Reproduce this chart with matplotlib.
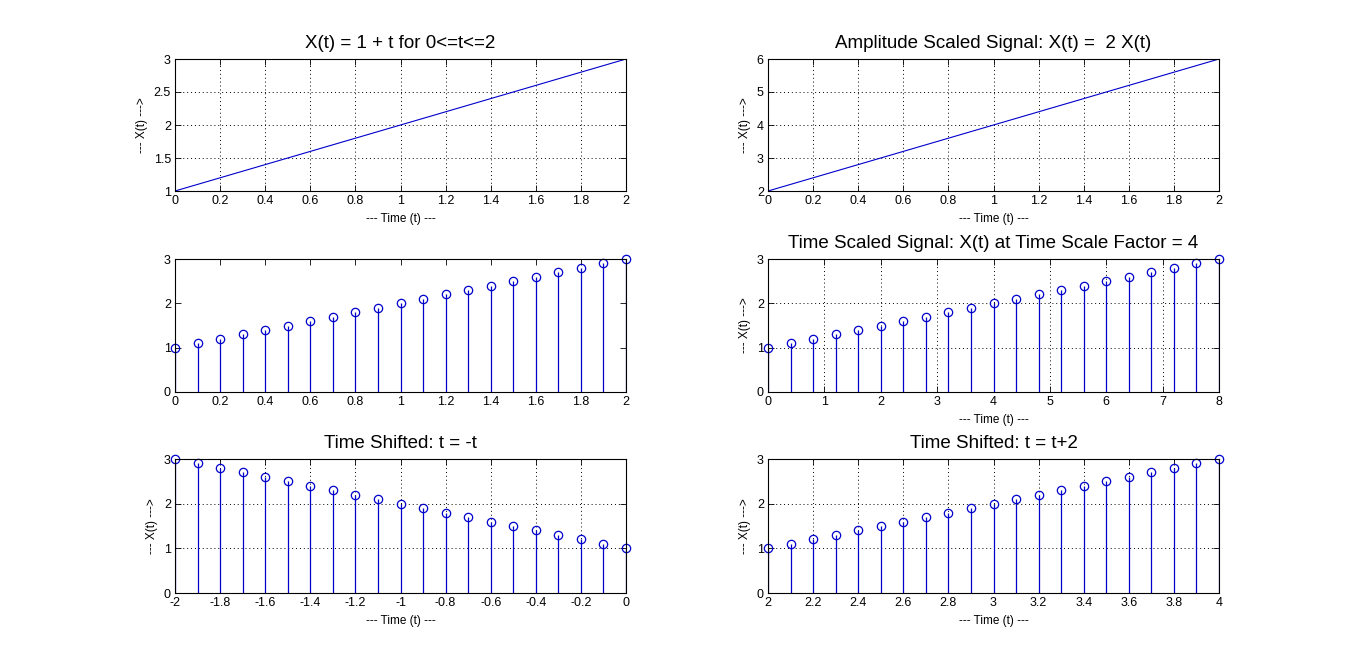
import matplotlib
matplotlib.use("Agg")
import matplotlib.pyplot as plt
from matplotlib.ticker import FuncFormatter, MultipleLocator

plt.rcParams['font.family'] = ['Liberation Sans', 'DejaVu Sans']
plt.rcParams['axes.unicode_minus'] = False

# signal samples
t = [0.0, 0.1, 0.2, 0.3, 0.4, 0.5, 0.6, 0.7, 0.8, 0.9, 1.0,
     1.1, 1.2, 1.3, 1.4, 1.5, 1.6, 1.7, 1.8, 1.9, 2.0]
x = [1.0, 1.1, 1.2, 1.3, 1.4, 1.5, 1.6, 1.7, 1.8, 1.9, 2.0,
     2.1, 2.2, 2.3, 2.4, 2.5, 2.6, 2.7, 2.8, 2.9, 3.0]
x_amp = [2.0, 2.2, 2.4, 2.6, 2.8, 3.0, 3.2, 3.4, 3.6, 3.8, 4.0,
         4.2, 4.4, 4.6, 4.8, 5.0, 5.2, 5.4, 5.6, 5.8, 6.0]
t_scaled = [0.0, 0.4, 0.8, 1.2, 1.6, 2.0, 2.4, 2.8, 3.2, 3.6, 4.0,
            4.4, 4.8, 5.2, 5.6, 6.0, 6.4, 6.8, 7.2, 7.6, 8.0]
t_rev = [0.0, -0.1, -0.2, -0.3, -0.4, -0.5, -0.6, -0.7, -0.8, -0.9, -1.0,
         -1.1, -1.2, -1.3, -1.4, -1.5, -1.6, -1.7, -1.8, -1.9, -2.0]
t_shift = [2.0, 2.1, 2.2, 2.3, 2.4, 2.5, 2.6, 2.7, 2.8, 2.9, 3.0,
           3.1, 3.2, 3.3, 3.4, 3.5, 3.6, 3.7, 3.8, 3.9, 4.0]

XLAB = '--- Time (t) ---'
YLAB = '--- X(t) --->'

fig = plt.figure(figsize=(13.47, 6.68), dpi=100)

lefts = [175 / 1347, 768 / 1347]
w = 451 / 1347
rows = [(59, 191), (259, 392), (459, 593)]

def make_ax(r, c):
    top, bot = rows[r]
    ax = fig.add_axes([lefts[c], 1 - bot / 668, w, (bot - top) / 668])
    ax.tick_params(direction='in', top=True, right=True, length=4,
                   width=0.6, labelsize=9, pad=3)
    for s in ax.spines.values():
        s.set_linewidth(0.8)
    ax.xaxis.set_major_formatter(FuncFormatter(lambda v, p: '%g' % round(v, 6)))
    ax.yaxis.set_major_formatter(FuncFormatter(lambda v, p: '%g' % round(v, 6)))
    return ax

def grid(ax):
    ax.grid(True, linestyle=(0, (1, 3)), color='black', linewidth=0.7)

def stem(ax, xs, ys):
    ml, sl, bl = ax.stem(xs, ys, linefmt='-', markerfmt='o', basefmt=' ')
    sl.set_color('#0000cc')
    sl.set_linewidth(0.9)
    ml.set_markerfacecolor('none')
    ml.set_markeredgecolor('#0000cc')
    ml.set_markersize(6)
    ml.set_markeredgewidth(0.9)
    ml.set_clip_on(False)

def labels(ax, title=None):
    ax.set_xlabel(XLAB, fontsize=8.5, labelpad=4)
    ax.set_ylabel(YLAB, fontsize=8.5, labelpad=4)
    if title:
        ax.set_title(title, fontsize=13.5, pad=8)

# row 1 left
ax = make_ax(0, 0)
ax.plot(t, x, color='#0000cc', linewidth=0.8)
ax.set_xlim(0, 2)
ax.set_ylim(1, 3)
ax.xaxis.set_major_locator(MultipleLocator(0.2))
ax.yaxis.set_major_locator(MultipleLocator(0.5))
grid(ax)
labels(ax, 'X(t) = 1 + t for 0<=t<=2')

# row 1 right
ax = make_ax(0, 1)
ax.plot(t, x_amp, color='#0000cc', linewidth=0.8)
ax.set_xlim(0, 2)
ax.set_ylim(2, 6)
ax.xaxis.set_major_locator(MultipleLocator(0.2))
ax.yaxis.set_major_locator(MultipleLocator(1))
grid(ax)
labels(ax, 'Amplitude Scaled Signal: X(t) =  2 X(t)')

# row 2 left
ax = make_ax(1, 0)
stem(ax, t, x)
ax.set_xlim(0, 2)
ax.set_ylim(0, 3)
ax.xaxis.set_major_locator(MultipleLocator(0.2))
ax.yaxis.set_major_locator(MultipleLocator(1))

# row 2 right
ax = make_ax(1, 1)
stem(ax, t_scaled, x)
ax.set_xlim(0, 8)
ax.set_ylim(0, 3)
ax.xaxis.set_major_locator(MultipleLocator(1))
ax.yaxis.set_major_locator(MultipleLocator(1))
grid(ax)
labels(ax, 'Time Scaled Signal: X(t) at Time Scale Factor = 4')

# row 3 left
ax = make_ax(2, 0)
stem(ax, t_rev, x)
ax.set_xlim(-2, 0)
ax.set_ylim(0, 3)
ax.xaxis.set_major_locator(MultipleLocator(0.2))
ax.yaxis.set_major_locator(MultipleLocator(1))
grid(ax)
labels(ax, 'Time Shifted: t = -t')

# row 3 right
ax = make_ax(2, 1)
stem(ax, t_shift, x)
ax.set_xlim(2, 4)
ax.set_ylim(0, 3)
ax.xaxis.set_major_locator(MultipleLocator(0.2))
ax.yaxis.set_major_locator(MultipleLocator(1))
grid(ax)
labels(ax, 'Time Shifted: t = t+2')

fig.savefig('out.png', dpi=100)
